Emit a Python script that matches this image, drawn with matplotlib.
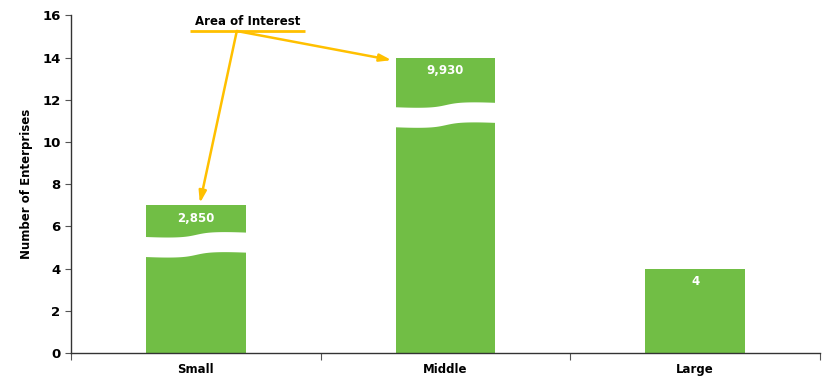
import matplotlib.pyplot as plt
import numpy as np

categories = ['Small', 'Middle', 'Large']
enterprise_counts = [2850, 9930, 4]          # counts printed on the bars
axis_heights = [7, 14, 4]                    # bar heights on the compressed axis
break_centres = [5.15, 11.3, None]           # where each broken bar is cut

bar_color = '#71BE45'
arrow_color = '#FFC000'


def draw_break(ax, x, width, centre, gap=0.95, amp=0.1):
    # white wavy band across the bar to mark the axis break
    xs = np.linspace(x - width / 2 - 0.01, x + width / 2 + 0.01, 200)
    t = (xs - xs[0]) / (xs[-1] - xs[0])
    wave = amp * np.tanh((t - 0.5) * 9) - 0.03 * np.sin(np.pi * t * 2)
    lower = centre - gap / 2 + wave
    upper = centre + gap / 2 + wave
    ax.fill_between(xs, lower, upper, color='white', lw=0, zorder=3)


fig = plt.figure(figsize=(8.23, 3.77), dpi=100)
ax = fig.add_axes([0.0863, 0.0637, 0.9101, 0.8954])

x = np.arange(len(categories))
width = 0.4
ax.bar(x, axis_heights, width, color=bar_color, zorder=2)

for xi, h, n, c in zip(x, axis_heights, enterprise_counts, break_centres):
    if c is not None:
        draw_break(ax, xi, width, c)
    ax.text(xi, h - 0.62, f'{n:,}', ha='center', va='center', color='white',
            fontsize=8.5, fontweight='bold', zorder=4)

ax.set_xlim(-0.5, 2.5)
ax.set_ylim(0, 16)
ax.set_yticks(range(0, 17, 2))
ax.set_xticks([-0.5, 0.5, 1.5, 2.5])
ax.set_xticklabels([])
ax.set_xticks(x, minor=True)
ax.set_xticklabels(categories, minor=True)
ax.tick_params(axis='x', which='major', length=5, direction='out', color='#555555')
ax.tick_params(axis='x', which='minor', length=0, pad=7, labelsize=8.5)
ax.tick_params(axis='y', length=4, direction='out', labelsize=9.5, color='#555555')
for lab in ax.get_xticklabels(minor=True) + ax.get_yticklabels():
    lab.set_fontweight('bold')

for side in ['top', 'right']:
    ax.spines[side].set_visible(False)
for side in ['left', 'bottom']:
    ax.spines[side].set_color('#333333')
    ax.spines[side].set_linewidth(1.0)

ax.set_ylabel('Number of Enterprises', fontsize=8.5, fontweight='bold', labelpad=7)

# callout pointing at the two broken bars
ax.text(0.206, 15.72, 'Area of Interest', ha='center', va='center',
        fontsize=8.5, fontweight='bold')
ax.plot([-0.024, 0.436], [15.26, 15.26], color=arrow_color, lw=2, zorder=5,
        solid_capstyle='butt')
origin = (0.164, 15.26)
for target in [(0.016, 7.1), (0.784, 13.88)]:
    ax.annotate('', xy=target, xytext=origin,
                arrowprops=dict(arrowstyle='-|>,head_length=0.7,head_width=0.22',
                                color=arrow_color, lw=1.8, shrinkA=0, shrinkB=0),
                zorder=5)

fig.savefig('out.png', dpi=100)
